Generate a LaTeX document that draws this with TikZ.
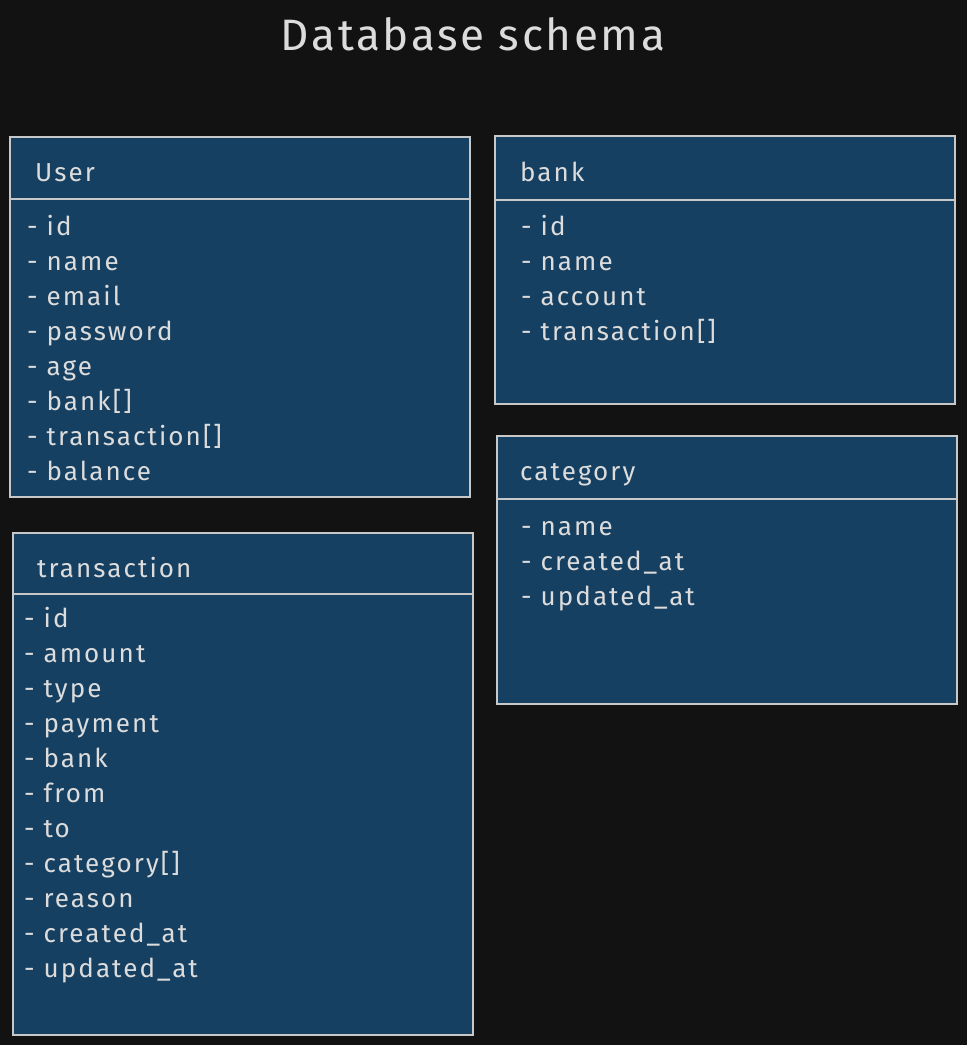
\documentclass[tikz,border=0pt]{standalone}
\usepackage{fontspec}
\setmainfont{Fira Sans}
\newfontfamily\wide[LetterSpace=8]{Fira Sans}
\newfontfamily\widettl[LetterSpace=6]{Fira Sans}
\definecolor{bgc}{HTML}{121212}
\definecolor{boxfill}{HTML}{154062}
\definecolor{boxline}{HTML}{C8C8C8}
\definecolor{txt}{HTML}{DCDCDC}
\begin{document}
\begin{tikzpicture}[x=1pt,y=-1pt,
  tbl/.style={draw=boxline,fill=boxfill,line width=1.2pt},
  divline/.style={draw=boxline,line width=1.2pt},
  hdr/.style={anchor=base west,inner sep=0pt,text=txt,font=\wide\fontsize{26}{30}\selectfont},
  item/.style={anchor=base west,inner sep=0pt,text=txt,font=\wide\fontsize{26}{30}\selectfont},
  ttl/.style={anchor=base,inner sep=0pt,text=txt,font=\widettl\fontsize{44}{50}\selectfont}]
\fill[bgc] (0,0) rectangle (967,1045);
\useasboundingbox (0,0) rectangle (967,1045);
\node[ttl] (title) at (473,50) {Database schema};
% User
\draw[tbl] (10,137) rectangle (470,497);
\coordinate (ua) at (10,199); \coordinate (ub) at (470,199);
\draw[divline] (ua) -- (ub);
\node[hdr] (userh) at (35,181) {User};
\node[item] (u1) at (27,235) {- id};
\node[item] (u2) at (27,270) {- name};
\node[item] (u3) at (27,305) {- email};
\node[item] (u4) at (27,340) {- password};
\node[item] (u5) at (27,375) {- age};
\node[item] (u6) at (27,410) {- bank[]};
\node[item] (u7) at (27,445) {- transaction[]};
\node[item] (u8) at (27,480) {- balance};
% bank
\draw[tbl] (495,136) rectangle (955,404);
\coordinate (ba) at (495,200); \coordinate (bb) at (955,200);
\draw[divline] (ba) -- (bb);
\node[hdr] (bankh) at (520,181) {bank};
\node[item] (b1) at (521,235) {- id};
\node[item] (b2) at (521,270) {- name};
\node[item] (b3) at (521,305) {- account};
\node[item] (b4) at (521,340) {- transaction[]};
% category
\draw[tbl] (497,436) rectangle (957,704);
\coordinate (ca) at (497,499); \coordinate (cb) at (957,499);
\draw[divline] (ca) -- (cb);
\node[hdr] (cath) at (520,480) {category};
\node[item] (c1) at (521,535) {- name};
\node[item] (c2) at (521,570) {- created\_at};
\node[item] (c3) at (521,605) {- updated\_at};
% transaction
\draw[tbl] (13,533) rectangle (473,1035);
\coordinate (ta) at (13,594); \coordinate (tb) at (473,594);
\draw[divline] (ta) -- (tb);
\node[hdr] (trh) at (37,577) {transaction};
\node[item] (t1) at (24,627) {- id};
\node[item] (t2) at (24,662) {- amount};
\node[item] (t3) at (24,697) {- type};
\node[item] (t4) at (24,732) {- payment};
\node[item] (t5) at (24,767) {- bank};
\node[item] (t6) at (24,802) {- from};
\node[item] (t7) at (24,837) {- to};
\node[item] (t8) at (24,872) {- category[]};
\node[item] (t9) at (24,907) {- reason};
\node[item] (t10) at (24,942) {- created\_at};
\node[item] (t11) at (24,977) {- updated\_at};
\end{tikzpicture}
\end{document}
